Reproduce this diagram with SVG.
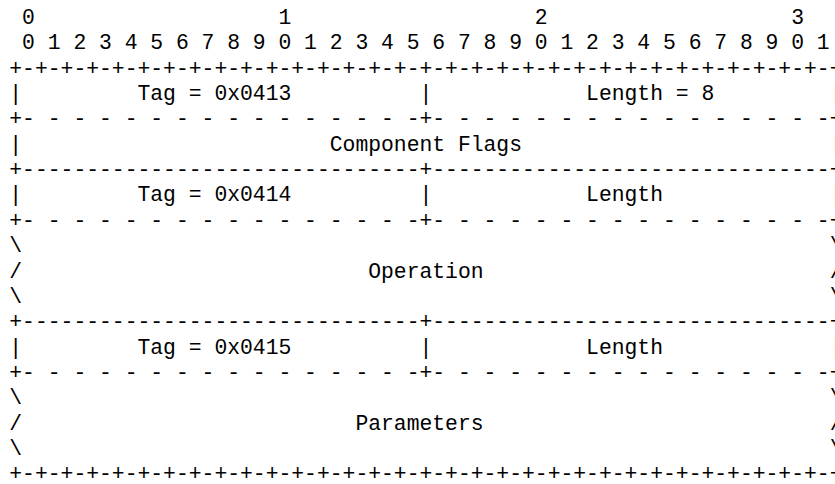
<svg xmlns="http://www.w3.org/2000/svg" width="835" height="484" viewBox="0 0 835 484">
<style>
text{font-family:"Liberation Mono","DejaVu Sans Mono",monospace;font-size:21.36px;fill:#000;white-space:pre}
</style>
<rect width="835" height="484" fill="#fff"/>
<g id="bit-ruler">
<text x="9.3" y="24" xml:space="preserve"> 0                   1                   2                   3</text>
<text x="9.3" y="49.35" xml:space="preserve"> 0 1 2 3 4 5 6 7 8 9 0 1 2 3 4 5 6 7 8 9 0 1 2 3 4 5 6 7 8 9 0 1</text>
</g>
<g id="packet">
<text x="9.3" y="74.7" xml:space="preserve">+-+-+-+-+-+-+-+-+-+-+-+-+-+-+-+-+-+-+-+-+-+-+-+-+-+-+-+-+-+-+-+-+</text>
<text x="9.3" y="100.05" xml:space="preserve">|         Tag = 0x0413          |            Length = 8         |</text>
<text x="9.3" y="125.4" xml:space="preserve">+- - - - - - - - - - - - - - - -+- - - - - - - - - - - - - - - -+</text>
<text x="9.3" y="150.75" xml:space="preserve">|                        Component Flags                        |</text>
<text x="9.3" y="176.1" xml:space="preserve">+-------------------------------+-------------------------------+</text>
<text x="9.3" y="201.45" xml:space="preserve">|         Tag = 0x0414          |            Length             |</text>
<text x="9.3" y="226.8" xml:space="preserve">+- - - - - - - - - - - - - - - -+- - - - - - - - - - - - - - - -+</text>
<text x="9.3" y="252.15" xml:space="preserve">\                                                               \</text>
<text x="9.3" y="277.5" xml:space="preserve">/                           Operation                           /</text>
<text x="9.3" y="302.85" xml:space="preserve">\                                                               \</text>
<text x="9.3" y="328.2" xml:space="preserve">+-------------------------------+-------------------------------+</text>
<text x="9.3" y="353.55" xml:space="preserve">|         Tag = 0x0415          |            Length             |</text>
<text x="9.3" y="378.9" xml:space="preserve">+- - - - - - - - - - - - - - - -+- - - - - - - - - - - - - - - -+</text>
<text x="9.3" y="404.25" xml:space="preserve">\                                                               \</text>
<text x="9.3" y="429.6" xml:space="preserve">/                          Parameters                           /</text>
<text x="9.3" y="454.95" xml:space="preserve">\                                                               \</text>
<text x="9.3" y="480.3" xml:space="preserve">+-+-+-+-+-+-+-+-+-+-+-+-+-+-+-+-+-+-+-+-+-+-+-+-+-+-+-+-+-+-+-+-+</text>
</g>
</svg>
